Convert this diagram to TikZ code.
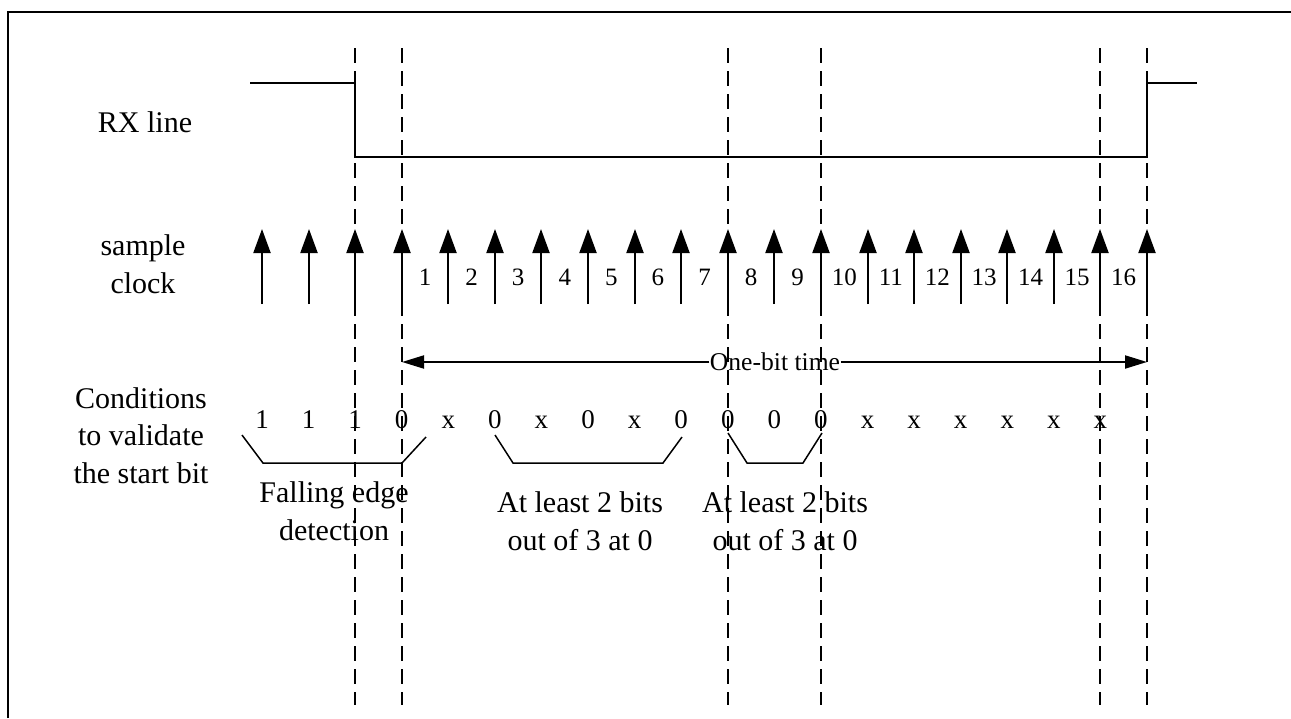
\documentclass[tikz,border=0pt]{standalone}
\usepackage{fontspec}
\setmainfont{Liberation Serif}
\usetikzlibrary{arrows.meta}
\tikzset{
  clk/.style={line width=2pt,-{Triangle[width=17pt,length=24pt]}},
  dline/.style={line width=2pt,dash pattern=on 15pt off 8pt},
  wave/.style={line width=2pt,line join=miter},
  brk/.style={line width=1.5pt},
  bta/.style={line width=2pt,-{Triangle[width=13pt,length=22pt]}},
  lbl/.style={font=\fontsize{30}{37.5}\selectfont,align=center,anchor=base,inner sep=0pt},
  num/.style={font=\fontsize{25}{28}\selectfont,anchor=base,inner sep=0pt},
  cond/.style={font=\fontsize{27}{30}\selectfont,anchor=base,inner sep=0pt},
}
\begin{document}
\begin{tikzpicture}[x=1pt,y=-1pt]
\useasboundingbox (0,0) rectangle (1291,718);
% frame (runs off right and bottom)
\draw[line width=2pt] (8,718) -- (8,12) -- (1291,12);
% dashed markers
\foreach \i in {2,3,10,12,18,19}{
  \pgfmathsetmacro{\xx}{round(262+46.58*\i)}
  \coordinate (dt\i) at (\xx,48);
  \coordinate (db\i) at (\xx,705);
  \draw[dline] (dt\i) -- (db\i);
}
% RX line waveform
\coordinate (w0) at (250,83);
\coordinate (w1) at (355,83);
\coordinate (w2) at (355,157);
\coordinate (w3) at (1147,157);
\coordinate (w4) at (1147,83);
\coordinate (w5) at (1197,83);
\draw[wave] (w0) -- (w1) -- (w2) -- (w3) -- (w4) -- (w5);
% sample clock arrows
\foreach \i in {0,...,19}{
  \pgfmathsetmacro{\xx}{round(262+46.58*\i)}
  \coordinate (cb\i) at (\xx,304);
  \coordinate (ct\i) at (\xx,229);
  \draw[clk] (cb\i) -- (ct\i);
}
% sample numbers
\foreach \k in {1,...,16}{
  \node[num] (n\k) at ({262+46.58*(\k+2.5)},285) {\k};
}
% one-bit time
\node[font=\fontsize{25.6}{28}\selectfont,inner sep=0.5pt] (obt) at (775,362) {One-bit time};
\coordinate (oL) at (402,362);
\coordinate (oR) at (1147,362);
\draw[bta] (obt.west) -- (oL);
\draw[bta] (obt.east) -- (oR);
% condition values
\foreach \v [count=\j from 0] in {1,1,1,0,x,0,x,0,x,0,0,0,0,x,x,x,x,x,x}{
  \node[cond] (c\j) at ({262+46.58*\j},428) {\v};
}
% brackets
\coordinate (a1) at (242,435); \coordinate (a2) at (263,463);
\coordinate (a3) at (402,463); \coordinate (a4) at (426,437);
\draw[brk] (a1) -- (a2) -- (a3) -- (a4);
\coordinate (b1) at (495,435); \coordinate (b2) at (513,463);
\coordinate (b3) at (663,463); \coordinate (b4) at (682,437);
\draw[brk] (b1) -- (b2) -- (b3) -- (b4);
\coordinate (e1) at (728,433); \coordinate (e2) at (747,463);
\coordinate (e3) at (803,463); \coordinate (e4) at (822,433);
\draw[brk] (e1) -- (e2) -- (e3) -- (e4);
% labels (base = last line baseline)
\node[lbl] (rx) at (145,132) {RX line};
\node[lbl] (sc) at (143,293) {sample\\clock};
\node[lbl] (cv) at (141,483) {Conditions\\to validate\\the start bit};
\node[lbl] (fe) at (334,540) {Falling edge\\detection};
\node[lbl] (l1) at (580,550) {At least 2 bits\\out of 3 at 0};
\node[lbl] (l2) at (785,550) {At least 2 bits\\out of 3 at 0};
\end{tikzpicture}
\end{document}
